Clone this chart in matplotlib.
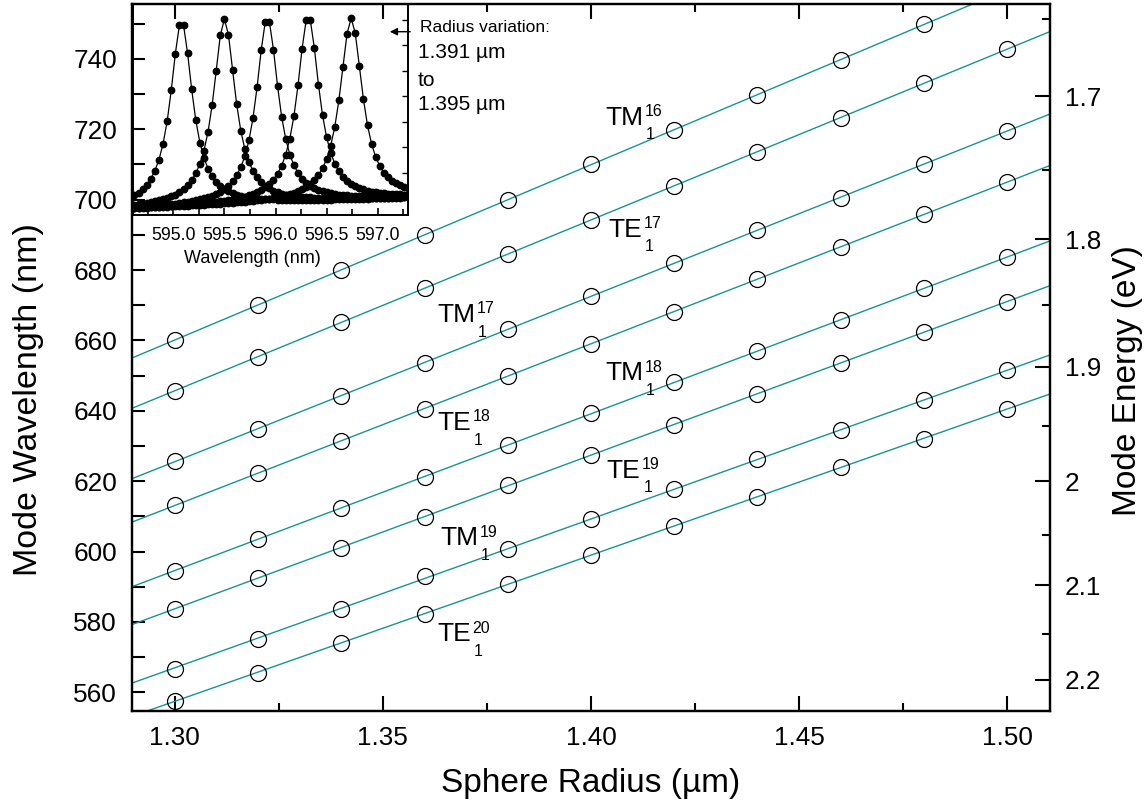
import numpy as np
import matplotlib
matplotlib.use('Agg')
import matplotlib.pyplot as plt
from matplotlib.ticker import MultipleLocator, FixedLocator, FixedFormatter, NullFormatter

plt.rcParams['font.family'] = ['Liberation Sans', 'DejaVu Sans']

# ---------------- main data ----------------
radius = [1.30, 1.32, 1.34, 1.36, 1.38, 1.40, 1.42, 1.44, 1.46, 1.48, 1.50]
TM16 = [660.1, 670.2, 680.0, 689.9, 700.0, 710.1, 719.9, 729.7, 739.7, 749.9, np.nan]
TE17 = [645.7, 655.4, 665.1, 674.8, 684.7, 694.3, 703.8, 713.6, 723.3, 733.1, 742.8]
TM17 = [625.6, 634.9, 644.3, 653.6, 663.3, 672.5, 682.1, 691.3, 700.6, 710.1, 719.5]
TE18 = [613.1, 622.3, 631.4, 640.6, 650.0, 659.1, 668.2, 677.5, 686.6, 695.8, 704.9]
TM18 = [594.5, 603.6, 612.4, 621.2, 630.4, 639.3, 648.1, 656.9, 665.9, 674.8, 683.6]
TE19 = [583.7, 592.5, 601.1, 609.9, 618.9, 627.5, 636.1, 644.9, 653.6, 662.3, 671.0]
TM19 = [566.7, 575.3, 583.8, 593.2, 600.7, 609.2, 617.7, 626.2, 634.5, 643.0, 651.5]
TE20 = [557.6, 565.6, 574.0, 582.4, 590.7, 599.1, 607.3, 615.5, 623.9, 632.1, 640.6]
mode_series = [TM16, TE17, TM17, TE18, TM18, TE19, TM19, TE20]

mode_pol = ['TM', 'TE', 'TM', 'TE', 'TM', 'TE', 'TM', 'TE']
mode_n = ['16', '17', '17', '18', '18', '19', '19', '20']
mode_l = ['1', '1', '1', '1', '1', '1', '1', '1']
label_r = [1.4034, 1.4041, 1.3630, 1.3630, 1.4034, 1.4038, 1.3637, 1.3630]
label_lam = [721.3, 689.5, 665.3, 634.6, 648.8, 621.0, 601.9, 574.6]

energy_major = [1.7, 1.8, 1.9, 2.0, 2.1, 2.2]
energy_minor = [1.65, 1.75, 1.85, 1.95, 2.05, 2.15, 2.25]
HC = 1239.84  # eV nm

# ---------------- inset data ----------------
inset_wl = [594.62, 594.66, 594.70, 594.74, 594.78, 594.82, 594.86, 594.90, 594.94, 594.98,
            595.02, 595.06, 595.10, 595.14, 595.18, 595.22, 595.26, 595.30, 595.34, 595.38,
            595.42, 595.46, 595.50, 595.54, 595.58, 595.62, 595.66, 595.70, 595.74, 595.78,
            595.82, 595.86, 595.90, 595.94, 595.98, 596.02, 596.06, 596.10, 596.14, 596.18,
            596.22, 596.26, 596.30, 596.34, 596.38, 596.42, 596.46, 596.50, 596.54, 596.58,
            596.62, 596.66, 596.70, 596.74, 596.78, 596.82, 596.86, 596.90, 596.94, 596.98,
            597.02, 597.06, 597.10, 597.14, 597.18, 597.22, 597.26, 597.30]
spec_1391 = [0.12, 0.22, 0.36, 0.53, 0.76, 1.07, 1.51, 2.13, 3.01, 4.22, 5.66, 6.78,
             6.79, 5.68, 4.26, 3.06, 2.18, 1.58, 1.16, 0.86, 0.64, 0.48, 0.36, 0.27,
             0.20, 0.14, 0.10, 0.06, 0.03, 0.01, -0.01, -0.02, -0.04, -0.05, -0.05, -0.06,
             -0.06, -0.07, -0.07, -0.07, -0.07, -0.07, -0.07, -0.07, -0.07, -0.06, -0.06, -0.06,
             -0.06, -0.05, -0.05, -0.04, -0.04, -0.04, -0.03, -0.03, -0.02, -0.02, -0.01, -0.01,
             0.00, 0.00, 0.01, 0.01, 0.02, 0.02, 0.03, 0.03]
spec_1392 = [-0.26, -0.24, -0.22, -0.19, -0.16, -0.13, -0.09, -0.05, 0.00, 0.07, 0.14, 0.24,
             0.35, 0.51, 0.70, 0.97, 1.34, 1.86, 2.60, 3.64, 5.00, 6.38, 7.02, 6.40,
             5.03, 3.68, 2.65, 1.92, 1.42, 1.06, 0.81, 0.62, 0.48, 0.38, 0.30, 0.23,
             0.18, 0.14, 0.11, 0.09, 0.07, 0.05, 0.04, 0.03, 0.02, 0.01, 0.01, 0.00,
             0.00, 0.00, 0.00, 0.00, 0.00, 0.00, 0.00, 0.00, 0.00, 0.01, 0.01, 0.01,
             0.02, 0.02, 0.02, 0.03, 0.03, 0.04, 0.04, 0.05]
spec_1393 = [-0.35, -0.34, -0.33, -0.31, -0.30, -0.29, -0.27, -0.26, -0.24, -0.23, -0.21, -0.19,
             -0.16, -0.14, -0.11, -0.08, -0.05, 0.00, 0.04, 0.10, 0.17, 0.25, 0.36, 0.49,
             0.67, 0.89, 1.21, 1.64, 2.26, 3.15, 4.36, 5.80, 6.92, 6.92, 5.82, 4.39,
             3.19, 2.32, 1.71, 1.29, 0.99, 0.77, 0.61, 0.49, 0.40, 0.33, 0.27, 0.23,
             0.19, 0.17, 0.14, 0.12, 0.11, 0.10, 0.09, 0.08, 0.08, 0.07, 0.07, 0.07,
             0.06, 0.06, 0.06, 0.07, 0.07, 0.07, 0.07, 0.07]
spec_1394 = [-0.38, -0.37, -0.36, -0.35, -0.34, -0.33, -0.33, -0.31, -0.31, -0.29, -0.28, -0.27,
             -0.26, -0.25, -0.24, -0.22, -0.21, -0.19, -0.18, -0.16, -0.14, -0.12, -0.10, -0.08,
             -0.05, -0.02, 0.02, 0.06, 0.11, 0.17, 0.23, 0.32, 0.42, 0.56, 0.73, 0.96,
             1.27, 1.71, 2.33, 3.21, 4.42, 5.86, 6.98, 6.99, 5.88, 4.45, 3.25, 2.38,
             1.78, 1.35, 1.05, 0.84, 0.68, 0.56, 0.47, 0.39, 0.34, 0.29, 0.26, 0.23,
             0.21, 0.19, 0.17, 0.16, 0.15, 0.15, 0.14, 0.14]
spec_1395 = [-0.39, -0.39, -0.38, -0.37, -0.36, -0.35, -0.35, -0.34, -0.33, -0.32, -0.31, -0.31,
             -0.30, -0.29, -0.28, -0.27, -0.26, -0.25, -0.24, -0.23, -0.22, -0.21, -0.20, -0.19,
             -0.18, -0.16, -0.15, -0.14, -0.12, -0.10, -0.09, -0.07, -0.04, -0.02, 0.01, 0.03,
             0.07, 0.11, 0.15, 0.20, 0.27, 0.34, 0.44, 0.55, 0.70, 0.90, 1.17, 1.54,
             2.06, 2.80, 3.84, 5.15, 6.45, 7.05, 6.47, 5.18, 3.88, 2.85, 2.12, 1.61,
             1.26, 1.00, 0.82, 0.68, 0.58, 0.50, 0.43, 0.38]
inset_spectra = [spec_1391, spec_1392, spec_1393, spec_1394, spec_1395]

TEAL = '#179494'
W, H = 1147, 809

fig = plt.figure(figsize=(W / 100, H / 100), dpi=100)
ax = fig.add_axes([132 / W, 1 - 711 / H, 918 / W, 707 / H])
ax.set_xlim(1.2897, 1.5103)
ax.set_ylim(554.7, 755.6)

r = np.array(radius)
xx = np.array(ax.get_xlim())
for lam in mode_series:
    lam = np.array(lam, dtype=float)
    ok = ~np.isnan(lam)
    coef = np.polyfit(r[ok], lam[ok], 1)
    ax.plot(xx, np.polyval(coef, xx), color=TEAL, lw=1.0, zorder=2)
    ax.plot(r, lam, 'o', mfc='none', mec='black', ms=11.5, mew=0.9, zorder=3)

for s in ax.spines.values():
    s.set_linewidth(1.6)
ax.xaxis.set_major_locator(MultipleLocator(0.05))
ax.xaxis.set_minor_locator(MultipleLocator(0.025))
ax.xaxis.set_major_formatter(plt.FuncFormatter(lambda v, p: f'{v:.2f}'))
ax.yaxis.set_major_locator(MultipleLocator(20))
ax.yaxis.set_minor_locator(MultipleLocator(10))
ax.tick_params(axis='both', which='both', direction='in', width=1.5, labelsize=18.8, pad=10.8)
ax.tick_params(axis='x', which='both', top=True, bottom=True)
ax.tick_params(axis='x', which='major', length=10.8)
ax.tick_params(axis='x', which='minor', length=5.8)
ax.tick_params(axis='y', which='both', left=True, right=False, length=9.7)

ax.set_xlabel('Sphere Radius (µm)', fontsize=24)
ax.xaxis.set_label_coords(0.5, -0.0806)
ax.set_ylabel('Mode Wavelength (nm)', fontsize=24.5)
ax.yaxis.set_label_coords(-0.096, 0.44)

# energy axis on the right
ax2 = ax.twinx()
ax2.set_ylim(ax.get_ylim())
ax2.yaxis.set_major_locator(FixedLocator([HC / e for e in energy_major]))
ax2.yaxis.set_major_formatter(FixedFormatter([f'{e:g}' for e in energy_major]))
ax2.yaxis.set_minor_locator(FixedLocator([HC / e for e in energy_minor]))
ax2.yaxis.set_minor_formatter(NullFormatter())
ax2.tick_params(axis='y', which='both', direction='in', width=1.5, labelsize=18.8, pad=10.8)
ax2.tick_params(which='major', length=10.8)
ax2.tick_params(which='minor', length=5.8)
for s in ax2.spines.values():
    s.set_linewidth(1.6)
ax2.set_ylabel('Mode Energy (eV)', fontsize=24)
ax2.yaxis.set_label_coords(1.0675, 0.468)

# mode labels with stacked super/subscripts
fig.canvas.draw()
renderer = fig.canvas.get_renderer()
for pol, n, l, lx, ly in zip(mode_pol, mode_n, mode_l, label_r, label_lam):
    t = ax.text(lx, ly, pol, fontsize=19, ha='left', va='baseline', zorder=4)
    bb = t.get_window_extent(renderer)
    x0 = ax.transData.transform((lx, ly))[0]
    dx = (bb.x1 - x0) * 72 / 100 + 1.2
    ax.annotate(n, xy=(lx, ly), xytext=(dx, 6.0), textcoords='offset points',
                fontsize=11.5, ha='left', va='baseline', zorder=4)
    ax.annotate(l, xy=(lx, ly), xytext=(dx + 0.8, -10.6), textcoords='offset points',
                fontsize=11.5, ha='left', va='baseline', zorder=4)

# inset
axin = fig.add_axes([133 / W, 1 - 215 / H, 275 / W, 211 / H])
axin.patch.set_alpha(0)
for spec in inset_spectra:
    axin.plot(inset_wl, spec, '-o', color='black', lw=0.9, ms=4.6, zorder=3)
axin.set_xlim(594.606, 597.296)
axin.set_ylim(-0.66, 7.61)
axin.xaxis.set_major_locator(MultipleLocator(0.5))
axin.xaxis.set_minor_locator(MultipleLocator(0.25))
axin.xaxis.set_major_formatter(plt.FuncFormatter(lambda v, p: f'{v:.1f}'))
axin.yaxis.set_major_locator(MultipleLocator(1))
axin.tick_params(axis='x', which='both', direction='in', top=False, bottom=True,
                 labelsize=12.8, pad=9, width=1.2)
axin.tick_params(axis='x', which='major', length=5)
axin.tick_params(axis='x', which='minor', length=4)
axin.tick_params(axis='y', which='both', direction='in', left=False, right=True,
                 labelleft=False, labelright=False, length=4, width=1.0)
for s in axin.spines.values():
    s.set_linewidth(1.4)
axin.set_xlabel('Wavelength (nm)', fontsize=13)
axin.xaxis.set_label_coords(0.433, -0.166)

# annotation
fig.text(420 / W, 1 - 27 / H, 'Radius variation:', fontsize=12.5, ha='left', va='center')
fig.text(418 / W, 1 - 53 / H, '1.391 µm', fontsize=15, ha='left', va='center')
fig.text(418 / W, 1 - 80 / H, 'to', fontsize=15, ha='left', va='center')
fig.text(418 / W, 1 - 105 / H, '1.395 µm', fontsize=15, ha='left', va='center')
fig.add_artist(matplotlib.patches.FancyArrowPatch((413 / W, 1 - 31.7 / H), (387 / W, 1 - 31.7 / H),
               transform=fig.transFigure, arrowstyle='-|>', mutation_scale=11, lw=1.0, color='black'))

fig.savefig('out.png', dpi=100)
